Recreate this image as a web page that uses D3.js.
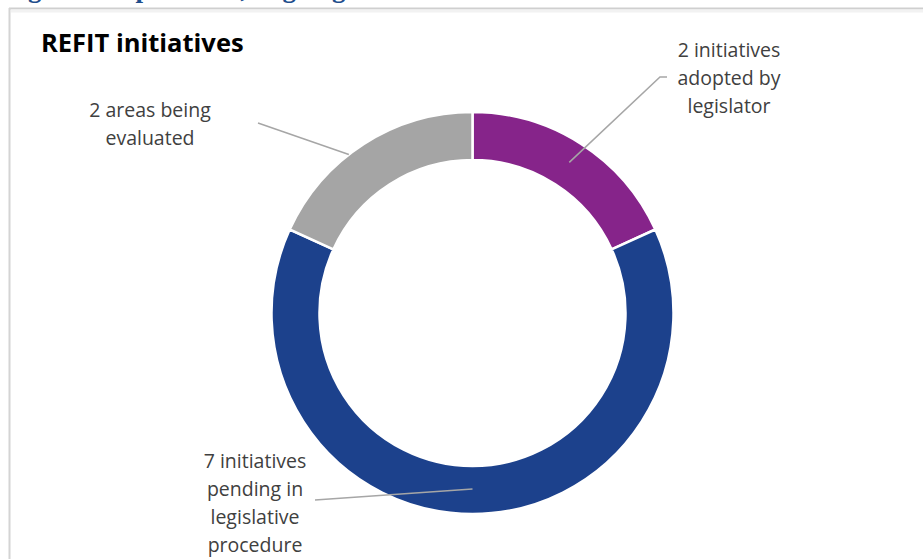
<!DOCTYPE html>
<html>
<head>
<meta charset="utf-8">
<script src="https://cdn.jsdelivr.net/npm/d3@7"></script>
<style>
  html, body { margin: 0; padding: 0; background: #fff; }
  svg { display: block; }
</style>
</head>
<body>
<svg id="chart" width="923" height="559"></svg>
<script>
// REFIT initiatives by status
const categories = ["adopted", "pending", "evaluated"];
const values = [2, 7, 2];
const labels = [
  ["2 initiatives", "adopted by", "legislator"],
  ["7 initiatives", "pending in", "legislative", "procedure"],
  ["2 areas being", "evaluated"]
];
const colors = ["#86248A", "#1C418C", "#A5A5A5"];

const W = 923, H = 559;
const svg = d3.select("#chart");

// page heading above the chart frame (only its lower part is in view)
svg.append("text")
  .attr("x", 4).attr("y", -3)
  .attr("font-family", "Liberation Serif, serif")
  .attr("font-weight", "bold")
  .attr("font-size", 27)
  .attr("fill", "#1F4E8C")
  .text("Figure 1: Up-to-date, ongoing REFIT work");

// chart frame
const frame = svg.append("g");
frame.append("rect").attr("x", 9).attr("y", 8).attr("width", W).attr("height", H)
  .attr("fill", "#fff");
frame.append("line").attr("x1", 9).attr("x2", W).attr("y1", 8.5).attr("y2", 8.5)
  .attr("stroke", "#CFCFCF").attr("stroke-width", 2);
frame.append("line").attr("x1", 9.5).attr("x2", 9.5).attr("y1", 8).attr("y2", H)
  .attr("stroke", "#D4D4D4").attr("stroke-width", 2);
frame.append("line").attr("x1", 11).attr("x2", W).attr("y1", 11).attr("y2", 11)
  .attr("stroke", "#F2F2F2").attr("stroke-width", 3);

// title
svg.append("text")
  .attr("x", 41).attr("y", 52)
  .attr("font-family", "Open Sans, sans-serif")
  .attr("font-weight", "bold")
  .attr("font-size", 25.5)
  .attr("fill", "#000")
  .text("REFIT initiatives");

// donut
const cx = 472.5, cy = 313, rOuter = 201, rInner = 153;
const pie = d3.pie().sort(null).value(d => d).startAngle(0).endAngle(2 * Math.PI);
const arcs = pie(values);
const arc = d3.arc().innerRadius(rInner).outerRadius(rOuter);

const g = svg.append("g").attr("transform", `translate(${cx},${cy})`);
g.selectAll("path")
  .data(arcs)
  .join("path")
  .attr("d", arc)
  .attr("fill", (d, i) => colors[i])
  .attr("stroke", "#fff")
  .attr("stroke-width", 2.5)
  .attr("stroke-linejoin", "miter");

// leader lines: anchor on the slice, then out to the label
const mid = d => (d.startAngle + d.endAngle) / 2;
const ringPt = (a, r) => [cx + r * Math.sin(a), cy - r * Math.cos(a)];
const frac = (d, f) => d.startAngle + (d.endAngle - d.startAngle) * f;

const leaders = [
  { a: mid(arcs[0]), r: 179, to: [[660, 77], [667, 77]] },
  { a: Math.PI, r: 176, to: [[315, 500]] },
  { a: frac(arcs[2], 0.42), r: 201, to: [[258, 123]] }
];
leaders.forEach(l => {
  const p0 = ringPt(l.a, l.r);
  svg.append("path")
    .attr("d", d3.line()([p0, ...l.to]))
    .attr("fill", "none")
    .attr("stroke", "#A6A6A6")
    .attr("stroke-width", 1.5);
});

// slice labels
const labelPos = [
  { x: 729, y: 57 },
  { x: 255, y: 468 },
  { x: 150, y: 117 }
];
labels.forEach((lines, i) => {
  const t = svg.append("text")
    .attr("x", labelPos[i].x).attr("y", labelPos[i].y)
    .attr("text-anchor", "middle")
    .attr("font-family", "Open Sans, sans-serif")
    .attr("font-size", 19.5)
    .attr("fill", "#404040");
  lines.forEach((s, k) => {
    t.append("tspan").attr("x", labelPos[i].x).attr("dy", k === 0 ? 0 : 28).text(s);
  });
});
</script>
</body>
</html>
